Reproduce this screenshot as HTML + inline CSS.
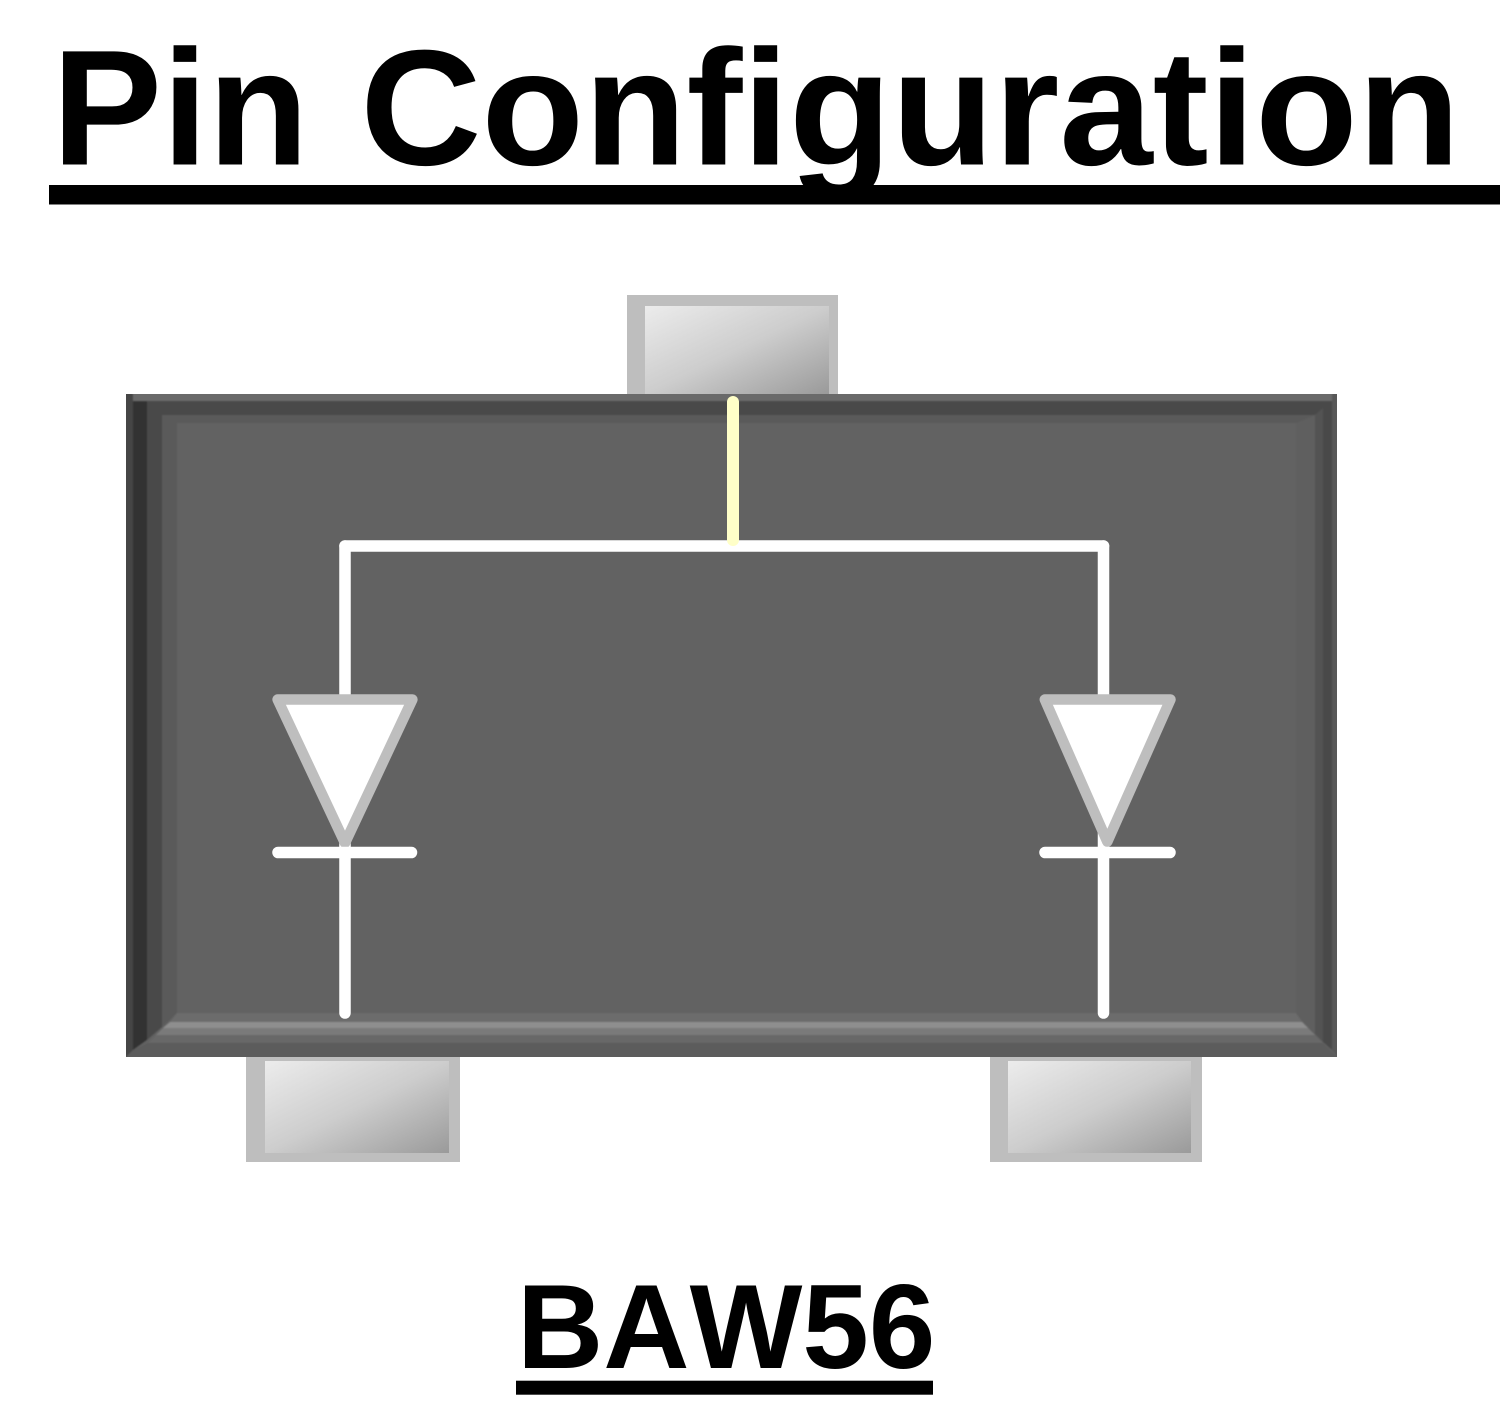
<!DOCTYPE html>
<html><head><meta charset="utf-8">
<style>html,body{margin:0;padding:0;background:#fff}svg{display:block}text{font-family:"Liberation Sans",Arial,sans-serif;font-weight:700;fill:#000;font-kerning:none;font-variant-ligatures:none}</style>
</head><body>
<svg xmlns="http://www.w3.org/2000/svg" width="1500" height="1428" viewBox="0 0 1500 1428">
<defs>
<linearGradient id="g" x1="0" y1="0" x2="1" y2="1"><stop offset="0" stop-color="#ececec"/><stop offset=".5" stop-color="#cdcdcd"/><stop offset="1" stop-color="#9a9a9a"/></linearGradient>
<filter id="b" x="-2%" y="-2%" width="104%" height="104%"><feGaussianBlur stdDeviation="0.9"/></filter>
<clipPath id="c"><rect x="126" y="394" width="1211" height="663"/></clipPath>
</defs>
<rect width="1500" height="1428" fill="#fff"/>
<text transform="translate(52,164.5) scale(.988,.985)" font-size="167">Pin</text>
<text transform="translate(360.3,164.5) scale(1.005,.985)" font-size="167">Configuration</text>
<rect x="49" y="185" width="1451" height="19.500" fill="#000"/>

<!-- pads -->
<rect x="627" y="295" width="211" height="100" fill="#bebebe"/>
<rect x="645" y="306" width="184" height="88" fill="url(#g)"/>
<rect x="246" y="1056" width="214" height="106" fill="#bebebe"/>
<rect x="265" y="1061" width="184" height="92" fill="url(#g)"/>
<rect x="990" y="1056" width="212" height="106" fill="#bebebe"/>
<rect x="1008" y="1061" width="183" height="92" fill="url(#g)"/>

<!-- body -->
<g clip-path="url(#c)">
<g filter="url(#b)">
<rect x="120" y="388" width="1223" height="675" fill="#626262"/>
<!-- top bands -->
<polygon points="120,388 1343,388 1332,401 133,401" fill="#6a6a6a"/>
<polygon points="133,401 1332,401 1315,415 147,415" fill="#484848"/>
<polygon points="147,415 1315,415 1305,423 162,423" fill="#5a5a5a"/>
<!-- left bands -->
<polygon points="120,388 133,394 133,1050 120,1063" fill="#444"/>
<polygon points="133,401 147,401 147,1040 133,1050" fill="#303030"/>
<polygon points="147,408 162,415 162,1027 147,1040" fill="#4a4a4a"/>
<polygon points="162,415 177,423 177,1013 162,1027" fill="#5a5a5a"/>
<!-- right bands -->
<polygon points="1343,388 1332,394 1332,1050 1343,1063" fill="#585858"/>
<polygon points="1332,401 1323,401 1323,1042 1332,1050" fill="#4a4a4a"/>
<polygon points="1323,408 1315,415 1315,1034 1323,1042" fill="#525252"/>
<polygon points="1315,415 1296,423 1296,1013 1315,1034" fill="#5e5e5e"/>
<!-- bottom bands -->
<polygon points="177,1013 1296,1013 1302,1022 170,1022" fill="#6c6c6c"/>
<polygon points="170,1022 1302,1022 1308,1028 163,1028" fill="#8e8e8e"/>
<polygon points="163,1028 1308,1028 1315,1035 156,1035" fill="#7a7a7a"/>
<polygon points="156,1035 1315,1035 1323,1043 148,1043" fill="#676767"/>
<polygon points="148,1043 1323,1043 1343,1063 120,1063 133,1050" fill="#5c5c5c"/>
</g>
</g>

<!-- wires -->
<g stroke="#fff" stroke-width="11.5" stroke-linecap="round" fill="none">
<path d="M345 546V1013"/>
<path d="M1103.5 546V1013"/>
<path d="M345 546H1103.5"/>
</g>
<path d="M733 402V540" stroke="#ffffc8" stroke-width="12" stroke-linecap="round" fill="none"/>

<!-- diodes -->
<polygon points="277.600,699.500 412.400,699.500 345,843" fill="#fff" stroke="#bebebe" stroke-width="10.500" stroke-linejoin="round"/>
<polygon points="1044.800,699.500 1170.500,699.500 1107.300,841.700" fill="#fff" stroke="#bebebe" stroke-width="10.500" stroke-linejoin="round"/>
<g stroke="#fff" stroke-width="11.5" stroke-linecap="round" fill="none">
<path d="M278 852.5H411.500"/>
<path d="M1045 852.5H1170"/>
</g>

<text x="517" y="1368" font-size="119.500">BAW56</text>
<rect x="516" y="1380.700" width="417" height="14" fill="#000"/>
</svg>
</body></html>
